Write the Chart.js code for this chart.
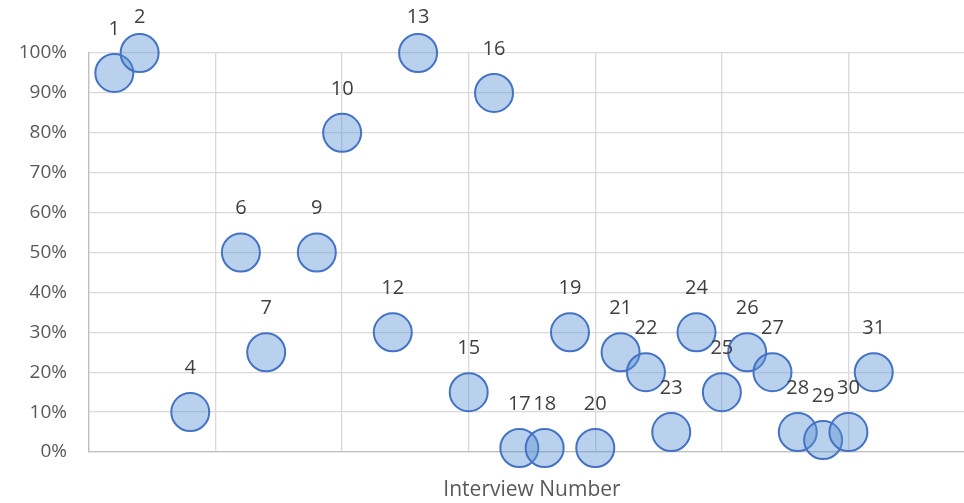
<!DOCTYPE html>
<html>
<head>
<meta charset="utf-8">
<script src="https://cdn.jsdelivr.net/npm/chart.js@4/dist/chart.umd.min.js"></script>
<style>
  html, body { margin: 0; padding: 0; background: #fff; overflow: hidden; }
  #wrap { width: 990px; height: 503px; }
</style>
</head>
<body>
<div id="wrap"><canvas id="chart"></canvas></div>
<script>
// --- DONNEES ---
const interviews = [1, 2, 4, 6, 7, 9, 10, 12, 13, 15, 16, 17, 18, 19, 20, 21, 22, 23, 24, 25, 26, 27, 28, 29, 30, 31];
const shares = [0.95, 1.00, 0.10, 0.50, 0.25, 0.50, 0.80, 0.30, 1.00, 0.15, 0.90, 0.01, 0.01, 0.30, 0.01, 0.25, 0.20, 0.05, 0.30, 0.15, 0.25, 0.20, 0.05, 0.03, 0.05, 0.20];
const yTicks = [0, 0.1, 0.2, 0.3, 0.4, 0.5, 0.6, 0.7, 0.8, 0.9, 1.0];
const xTitle = 'Interview Number';

const FONT = "'Open Sans', 'Liberation Sans', sans-serif";

// etiquettes au-dessus des bulles
const bubbleLabels = {
    id: 'bubbleLabels',
    afterDatasetsDraw(chart) {
        const ctx = chart.ctx;
        const meta = chart.getDatasetMeta(0);
        ctx.save();
        ctx.font = '20px ' + FONT;
        ctx.fillStyle = '#404040';
        ctx.textAlign = 'center';
        ctx.textBaseline = 'middle';
        meta.data.forEach((pt, i) => {
            const y = Math.max(pt.y - 44, 17);
            ctx.fillText(String(interviews[i]), pt.x, y);
        });
        ctx.restore();
    }
};

new Chart(document.getElementById('chart'), {
    type: 'bubble',
    data: {
        datasets: [{
            data: interviews.map((x, i) => ({ x: x, y: shares[i] })),
            radius: 19,
            borderWidth: 2,
            borderColor: '#4472C4',
            backgroundColor: 'rgba(91, 145, 213, 0.42)',
            hoverRadius: 0,
            clip: false
        }]
    },
    options: {
        responsive: true,
        maintainAspectRatio: false,
        animation: false,
        layout: { autoPadding: false, padding: { top: 53, left: 0, right: 15, bottom: 0 } },
        plugins: { legend: { display: false }, tooltip: { enabled: false } },
        scales: {
            x: {
                type: 'linear',
                min: 0, max: 35,
                afterFit: s => { s.height = 51; },
                ticks: { display: false, stepSize: 5 },
                grid: { color: '#D9D9D9', lineWidth: 1.3, drawTicks: false },
                border: { color: '#BFBFBF', width: 1.3 },
                title: { display: true, text: xTitle, color: '#595959', font: { family: FONT, size: 21 }, padding: { top: 0, bottom: 0 } }
            },
            y: {
                min: 0, max: 1,
                afterFit: s => { s.width = 89; },
                afterBuildTicks: s => { s.ticks = yTicks.map(v => ({ value: v })); },
                ticks: {
                    color: '#595959',
                    padding: 22,
                    font: { family: FONT, size: 19 },
                    callback: v => Math.round(v * 100) + '%'
                },
                grid: { color: '#D9D9D9', lineWidth: 1.3, drawTicks: false },
                border: { color: '#BFBFBF', width: 1.3 }
            }
        }
    },
    plugins: [bubbleLabels]
});
</script>
</body>
</html>
